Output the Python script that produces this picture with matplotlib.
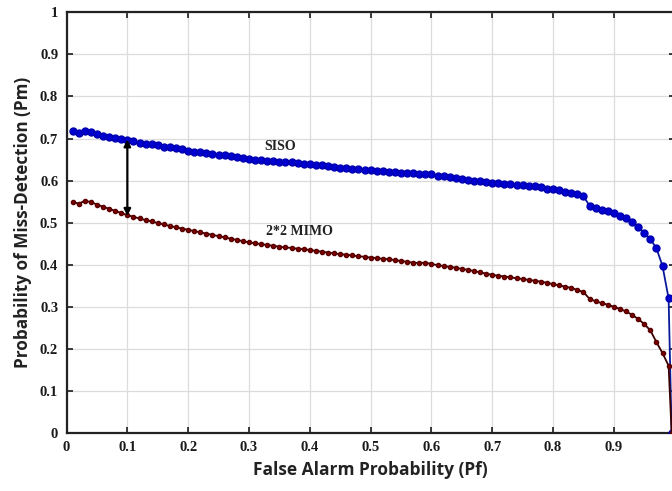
import matplotlib
matplotlib.use("Agg")
import matplotlib.pyplot as plt

# false alarm probability grid (0.01 steps, last point where curves hit zero)
pf = [round(0.01 * i, 2) for i in range(1, 100)] + [0.995]

# SISO miss-detection probability
pm_siso = [
    0.717, 0.714, 0.718, 0.716, 0.711, 0.707, 0.704, 0.701, 0.699, 0.696,
    0.693, 0.690, 0.688, 0.686, 0.684, 0.681, 0.679, 0.677, 0.674, 0.671,
    0.669, 0.667, 0.665, 0.664, 0.662, 0.660, 0.658, 0.655, 0.653, 0.651,
    0.650, 0.648, 0.647, 0.646, 0.645, 0.644, 0.643, 0.641, 0.640, 0.639,
    0.637, 0.636, 0.634, 0.633, 0.631, 0.630, 0.628, 0.627, 0.626, 0.625,
    0.623, 0.622, 0.621, 0.620, 0.619, 0.618, 0.617, 0.616, 0.616, 0.615,
    0.612, 0.610, 0.608, 0.606, 0.604, 0.602, 0.600, 0.598, 0.597, 0.595,
    0.594, 0.593, 0.592, 0.590, 0.589, 0.587, 0.586, 0.584, 0.581, 0.579,
    0.577, 0.574, 0.571, 0.567, 0.563, 0.540, 0.535, 0.531, 0.527, 0.522,
    0.516, 0.510, 0.501, 0.489, 0.476, 0.461, 0.439, 0.397, 0.320, 0.0,
]

# 2x2 MIMO miss-detection probability
pm_mimo = [
    0.550, 0.545, 0.552, 0.549, 0.543, 0.538, 0.533, 0.528, 0.523, 0.518,
    0.514, 0.510, 0.506, 0.503, 0.499, 0.496, 0.492, 0.489, 0.486, 0.483,
    0.480, 0.477, 0.474, 0.471, 0.468, 0.465, 0.462, 0.459, 0.456, 0.453,
    0.451, 0.449, 0.447, 0.445, 0.443, 0.441, 0.440, 0.438, 0.437, 0.435,
    0.433, 0.431, 0.429, 0.427, 0.425, 0.424, 0.422, 0.420, 0.419, 0.417,
    0.416, 0.414, 0.413, 0.411, 0.409, 0.407, 0.405, 0.404, 0.405, 0.402,
    0.399, 0.397, 0.395, 0.393, 0.390, 0.388, 0.385, 0.382, 0.379, 0.376,
    0.374, 0.372, 0.370, 0.368, 0.366, 0.364, 0.362, 0.360, 0.357, 0.354,
    0.351, 0.348, 0.345, 0.340, 0.335, 0.319, 0.313, 0.309, 0.305, 0.300,
    0.295, 0.289, 0.281, 0.271, 0.259, 0.244, 0.216, 0.190, 0.160, 0.0,
]

ticks = [0, 0.1, 0.2, 0.3, 0.4, 0.5, 0.6, 0.7, 0.8, 0.9, 1]
ytick_labels = ["0", "0.1", "0.2", "0.3", "0.4", "0.5", "0.6", "0.7", "0.8", "0.9", "1"]
# the "1" on the x axis falls outside the cropped picture
xtick_labels = ["0", "0.1", "0.2", "0.3", "0.4", "0.5", "0.6", "0.7", "0.8", "0.9", ""]

fig = plt.figure(figsize=(6.72, 4.91), dpi=100)
ax = fig.add_axes([0.099, 0.118, 0.905, 0.857])

# SISO curve
ax.plot(pf, pm_siso, color="#0a1a9a", lw=1.3, marker="o", ms=5,
        markerfacecolor="#0000d0", markeredgecolor="#0000b0", zorder=3)
# MIMO curve
ax.plot(pf, pm_mimo, color="#3a0000", lw=1.3, marker="o", ms=3,
        markerfacecolor="#7a0000", markeredgecolor="#5a0000", zorder=3)

# gap arrow at Pf = 0.1
ax.annotate("", xy=(0.1, 0.698), xytext=(0.1, 0.516),
            arrowprops=dict(arrowstyle="<|-|>", color="black", lw=1.6,
                            mutation_scale=10, shrinkA=0, shrinkB=0), zorder=4)

ax.text(0.326, 0.68, "SISO", fontfamily="Liberation Serif", fontweight="bold",
        fontsize=10, va="center", ha="left", color="#222222")
ax.text(0.328, 0.478, "2*2 MIMO", fontfamily="Liberation Serif", fontweight="bold",
        fontsize=10, va="center", ha="left", color="#222222")

ax.set_xlim(0, 1)
ax.set_ylim(0, 1)
ax.set_xticks(ticks)
ax.set_yticks(ticks)
ax.set_xticklabels(xtick_labels, fontfamily="Liberation Serif", fontweight="bold", fontsize=10.5)
ax.set_yticklabels(ytick_labels, fontfamily="Liberation Serif", fontweight="bold", fontsize=10.5)
ax.tick_params(direction="in", length=4, width=1.2, top=True, right=True, pad=6, colors="#1a1a1a")
ax.grid(True, color="#dcdcdc", lw=0.9)
ax.set_axisbelow(True)
for s in ax.spines.values():
    s.set_linewidth(1.6)
    s.set_color("#222222")

ax.set_xlabel("False Alarm Probability (Pf)", fontfamily="Open Sans", fontweight="bold",
              fontsize=12.5, labelpad=5, color="#222222")
ax.set_ylabel("Probability of Miss-Detection (Pm)", fontfamily="Open Sans", fontweight="bold",
              fontsize=12.3, labelpad=6, color="#222222")

fig.savefig("out.png", dpi=100)
